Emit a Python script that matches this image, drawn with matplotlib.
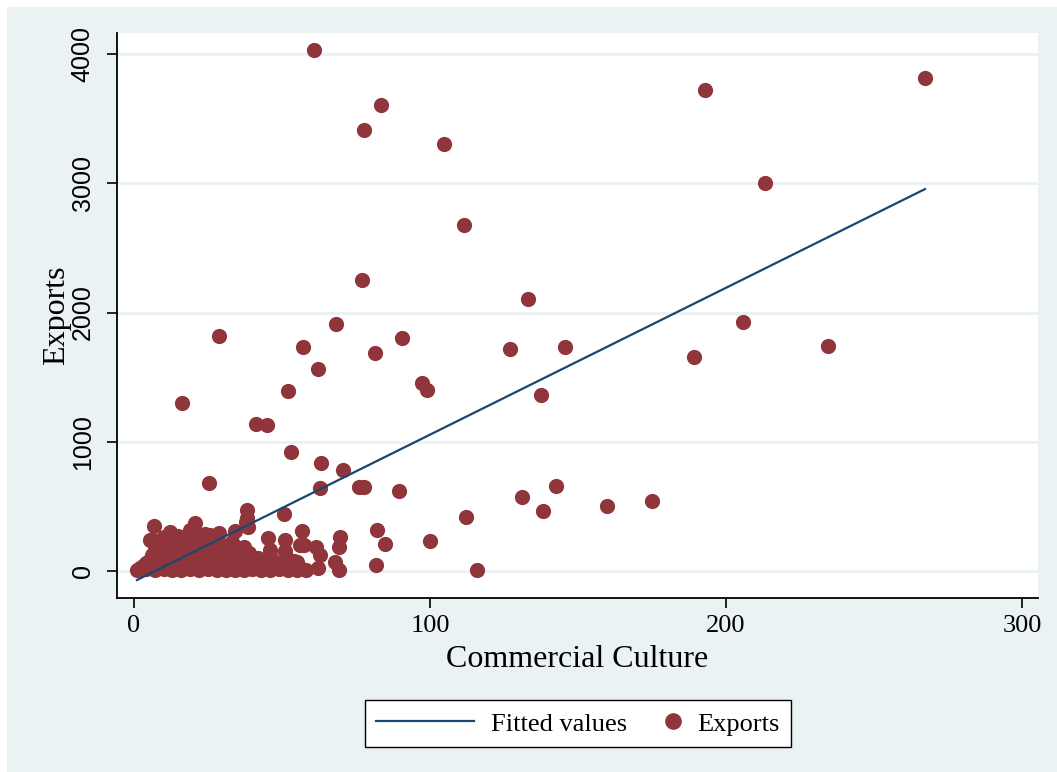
import numpy as np
import matplotlib
matplotlib.use("Agg")
import matplotlib.pyplot as plt
from matplotlib.patches import Rectangle
from matplotlib.legend_handler import HandlerLine2D
from matplotlib.lines import Line2D

# scattered points (Commercial Culture, Exports)
culture_hi = [60.8, 267.2, 193.0, 83.4, 77.7, 104.7, 213.2, 111.5, 77.0, 133.1,
              68.2, 28.7, 205.7, 90.5, 57.1, 127.0, 145.6, 234.5, 189.2, 81.4,
              62.2, 97.3, 99.0, 52.0, 137.5, 16.2, 41.2, 44.9, 53.0, 63.2,
              70.6, 25.3, 76.0, 77.7, 62.8, 142.6, 89.5, 131.1, 159.8, 175.0,
              138.2, 112.2, 50.7, 82.1, 84.8, 100.0, 81.8, 115.9, 69.6, 69.3,
              67.9, 69.3, 62.2, 56.8, 57.4, 61.5, 62.8, 38.1, 38.1, 38.6]
exports_hi = [4031, 3814, 3721, 3605, 3412, 3304, 3002, 2677, 2251, 2104,
              1911, 1818, 1926, 1803, 1733, 1718, 1733, 1741, 1656, 1687,
              1563, 1455, 1400, 1393, 1362, 1300, 1137, 1130, 921, 836,
              781, 681, 650, 650, 642, 658, 619, 573, 503, 542,
              464, 418, 441, 317, 209, 232, 46, 8, 263, 186,
              70, 8, 23, 310, 201, 188, 124, 472, 407, 343]

# dense cluster near the origin
culture_lo = [1, 4, 7, 10, 13, 16, 19, 22, 25, 28, 31, 34, 37, 40, 43, 46, 49, 52, 55, 58,
              3, 6, 9, 12, 15, 18, 21, 24, 27, 30, 33, 36, 39, 42, 45, 48, 54, 41,
              5, 8, 11, 14, 17, 20, 24, 27, 31, 35, 40, 44, 50, 54,
              6, 9, 12, 15, 18, 22, 26, 29, 33, 38, 46, 51,
              7, 10, 13, 17, 20, 24, 28, 35, 46, 51, 19, 26, 32,
              8, 12, 15, 19, 26, 32, 56, 55, 31.9,
              5.4, 14.4, 45.4, 51, 6.5, 20.6, 18.9, 12.2, 24, 28.7, 34.1, 37.7, 6.9, 25.7,
              2, 5, 8, 11, 14, 17, 20, 23, 26, 29, 32, 35, 38, 41, 44, 47, 50, 53, 56,
              4, 8, 12, 16, 20, 24, 28, 32, 36, 40, 44, 48, 52,
              6, 10, 14, 18, 22, 26, 30, 34, 38, 42,
              7, 11, 15, 19, 23, 27, 31, 35, 39,
              8, 12, 16, 20, 24, 28, 33, 37,
              9, 14, 19, 23, 28, 33,
              10, 15, 21, 27]
exports_lo = [10, 12, 8, 15, 10, 6, 12, 9, 14, 8, 11, 10, 9, 12, 8, 10, 13, 9, 11, 10,
              40, 38, 44, 36, 42, 40, 37, 43, 39, 41, 36, 42, 38, 40, 44, 37, 40, 21,
              80, 85, 78, 82, 76, 84, 85, 79, 83, 77, 98, 81, 72, 79,
              120, 118, 124, 115, 122, 111, 119, 124, 121, 124, 118, 149,
              165, 160, 168, 162, 176, 163, 170, 176, 162, 158, 98, 201, 201,
              200, 205, 198, 202, 201, 197, 201, 72, 201,
              240, 240, 253, 240, 240, 369, 317, 304, 284, 292, 312, 381, 351, 279,
              25, 22, 27, 24, 26, 23, 25, 28, 24, 26, 22, 25, 27, 23, 26, 24, 25, 22, 27,
              60, 58, 62, 59, 61, 57, 63, 60, 58, 62, 59, 61, 57,
              100, 98, 103, 97, 101, 99, 102, 98, 100, 103,
              140, 142, 138, 141, 139, 143, 137, 140, 142,
              185, 182, 188, 184, 186, 181, 187, 183,
              225, 222, 228, 224, 226, 221,
              265, 270, 262, 268]

commercial_culture = culture_hi + culture_lo
exports = exports_hi + exports_lo

# fitted line endpoints
fit_x = [1.0, 267.2]
fit_y = [-70, 2955]

navy = "#1a476f"
maroon = "#90353b"
panel = "#eaf2f3"

fig = plt.figure(figsize=(10.57, 7.72), dpi=100)
fig.patch.set_facecolor("white")
fig.patches.append(Rectangle((7 / 1057, 0), 1, 765 / 772, transform=fig.transFigure,
                             facecolor=panel, edgecolor="none", zorder=-10))

ax = fig.add_axes([117 / 1057, 1 - 598 / 772, (1038 - 117) / 1057, (598 - 33) / 772])
ax.set_facecolor("white")

ax.plot(fit_x, fit_y, color=navy, lw=1.6, zorder=3, label="Fitted values")
ax.scatter(commercial_culture, exports, s=120, color=maroon, linewidths=0, zorder=2,
           label="Exports")

ax.set_xlim(-5.74, 305.4)
ax.set_ylim(-209, 4163)
ax.set_xticks([0, 100, 200, 300])
ax.set_yticks([0, 1000, 2000, 3000, 4000])
ax.grid(axis="y", color=panel, lw=2.2, zorder=0)
ax.set_axisbelow(True)

for side in ["top", "right"]:
    ax.spines[side].set_visible(False)
for side in ["left", "bottom"]:
    ax.spines[side].set_linewidth(1.3)

ax.tick_params(axis="x", length=7, width=1.2, pad=5, labelsize=19)
ax.tick_params(axis="y", length=7, width=1.2, pad=9, labelsize=18, labelrotation=90)
for lbl in ax.get_xticklabels():
    lbl.set_family("Liberation Serif")
for lbl in ax.get_yticklabels():
    lbl.set_family("Liberation Sans")
    lbl.set_va("center")

ax.set_xlabel("Commercial Culture", family="Liberation Serif", fontsize=23, labelpad=6)
ax.set_ylabel("Exports", family="Liberation Serif", fontsize=23, labelpad=0)

line_h = Line2D([], [], color=navy, lw=1.6)
dot_h = Line2D([], [], color=maroon, marker="o", ls="none", markersize=11)
leg = fig.legend([line_h, dot_h], ["Fitted values", "Exports"], ncol=2,
                 loc="upper center", bbox_to_anchor=(578 / 1057, 1 - 687 / 772),
                 prop={"family": "Liberation Serif", "size": 19},
                 handlelength=3.7, handletextpad=0.65, columnspacing=-1.7,
                 borderpad=0.45, frameon=True, fancybox=False, framealpha=1,
                 handler_map={dot_h: HandlerLine2D(numpoints=1, xpad=3.18)})
leg.get_frame().set_edgecolor("black")
leg.get_frame().set_facecolor("white")
leg.get_frame().set_linewidth(1.0)

fig.savefig("out.png", dpi=100)
